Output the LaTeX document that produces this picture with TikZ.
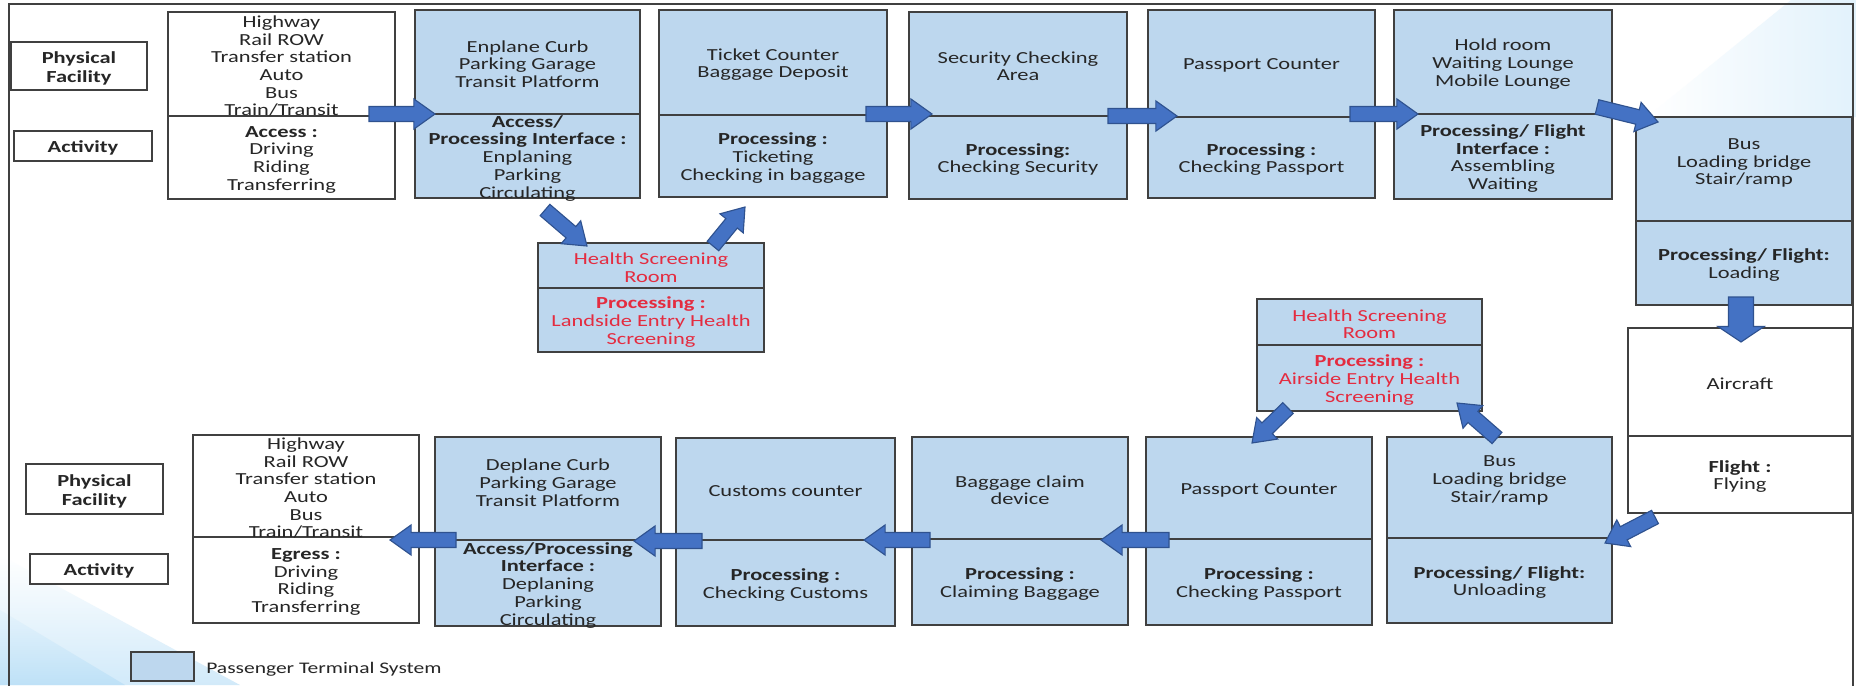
\documentclass[tikz,border=0pt]{standalone}
\usepackage{fontspec}
\setmainfont{Carlito}[FakeStretch=1.33]
\usetikzlibrary{calc,fit}

\definecolor{termblue}{RGB}{189,215,238}
\definecolor{boxline}{RGB}{64,64,64}
\definecolor{arrowblue}{RGB}{68,114,196}
\definecolor{arrowline}{RGB}{47,82,143}
\definecolor{hsred}{RGB}{228,44,64}
\definecolor{txtgray}{RGB}{38,38,38}
\definecolor{bgblue}{RGB}{190,225,247}

\tikzstyle{part} = [draw=boxline, line width=0.9pt, inner sep=0pt]
\tikzstyle{termpart} = [part, fill=termblue]
\tikzstyle{outpart} = [part, fill=white]
\tikzstyle{boxtext} = [align=center, inner sep=0pt, yshift=-1.5pt, text=txtgray, font=\fontsize{12}{12.6}\selectfont]
\tikzstyle{redtext} = [boxtext, text=hsred]
\tikzstyle{rowtext} = [boxtext, font=\fontsize{12}{13.4}\selectfont\bfseries]
\tikzstyle{blockarr} = [draw=arrowline, fill=arrowblue, line width=0.8pt, line join=miter]

\newcommand{\arrsw}{5.3pt}
\newcommand{\arrhw}{10.7pt}
\newcommand{\arrhl}{15pt}
\newcommand{\blockarrow}[2]{%
\path[blockarr] let \p1=(#1), \p2=(#2), \n1={atan2(\y2-\y1,\x2-\x1)}, \n2={veclen(\x2-\x1,\y2-\y1)} in
($(\p1)+(\n1+90:\arrsw)$) --
($(\p1)+(\n1:\n2-\arrhl)+(\n1+90:\arrsw)$) --
($(\p1)+(\n1:\n2-\arrhl)+(\n1+90:\arrhw)$) --
(\p2) --
($(\p1)+(\n1:\n2-\arrhl)+(\n1-90:\arrhw)$) --
($(\p1)+(\n1:\n2-\arrhl)+(\n1-90:\arrsw)$) --
($(\p1)+(\n1-90:\arrsw)$) -- cycle;}

\begin{document}
\begin{tikzpicture}[x=0.025cm, y=-0.025cm]
\useasboundingbox (0,0) rectangle (1856,685);
\fill[white] (0,0) rectangle (1856,685);
\shade[top color=white, bottom color=bgblue!70] (0,555) -- (240,685) -- (0,685) -- cycle;
\shade[top color=bgblue!40, bottom color=bgblue] (0,610) -- (125,685) -- (0,685) -- cycle;
\shade[left color=white, right color=bgblue!45] (1791,0) -- (1856,0) -- (1856,117) -- (1647,117) -- cycle;
\draw[boxline, line width=1pt] (9,700) -- (9,4) -- (1853,4) -- (1853,700);

\node[outpart, fit={(11,42) (147,90)}] (physA) {};
\node[outpart, fit={(14,131) (152,161)}] (actA) {};
\node[outpart, fit={(168,12) (395,116)}] (accup) {};
\node[outpart, fit={(168,116) (395,199)}] (acclo) {};
\node[termpart, fit={(415,10) (640,114)}] (enplup) {};
\node[termpart, fit={(415,114) (640,198)}] (enpllo) {};
\node[termpart, fit={(538,243) (764,288)}] (hslup) {};
\node[termpart, fit={(538,288) (764,352)}] (hsllo) {};
\node[termpart, fit={(659,10) (887,115)}] (tickup) {};
\node[termpart, fit={(659,115) (887,197)}] (ticklo) {};
\node[termpart, fit={(909,12) (1127,116)}] (secup) {};
\node[termpart, fit={(909,116) (1127,199)}] (seclo) {};
\node[termpart, fit={(1148,10) (1375,117)}] (passAup) {};
\node[termpart, fit={(1148,117) (1375,198)}] (passAlo) {};
\node[termpart, fit={(1394,10) (1612,114)}] (holdup) {};
\node[termpart, fit={(1394,114) (1612,199)}] (holdlo) {};
\node[termpart, fit={(1636,117) (1852,221)}] (busAup) {};
\node[termpart, fit={(1636,221) (1852,305)}] (busAlo) {};
\node[outpart, fit={(1628,328) (1852,436)}] (airup) {};
\node[outpart, fit={(1628,436) (1852,513)}] (airlo) {};

\node[termpart, fit={(1257,299) (1482,345)}] (hsaup) {};
\node[termpart, fit={(1257,345) (1482,411)}] (hsalo) {};
\node[termpart, fit={(1387,437) (1612,538)}] (busBup) {};
\node[termpart, fit={(1387,538) (1612,623)}] (busBlo) {};
\node[termpart, fit={(1146,437) (1372,539)}] (passBup) {};
\node[termpart, fit={(1146,539) (1372,625)}] (passBlo) {};
\node[termpart, fit={(912,437) (1128,539)}] (bagup) {};
\node[termpart, fit={(912,539) (1128,625)}] (baglo) {};
\node[termpart, fit={(676,438) (895,540)}] (custup) {};
\node[termpart, fit={(676,540) (895,626)}] (custlo) {};
\node[termpart, fit={(435,437) (661,540)}] (deplup) {};
\node[termpart, fit={(435,540) (661,626)}] (depllo) {};
\node[outpart, fit={(193,435) (419,537)}] (egrup) {};
\node[outpart, fit={(193,537) (419,623)}] (egrlo) {};
\node[outpart, fit={(26,464) (163,514)}] (physB) {};
\node[outpart, fit={(30,554) (168,584)}] (actB) {};
\node[termpart, fit={(131,652) (194,681)}] (legbox) {};

\node[rowtext] (physAtxt) at (physA) {Physical\\Facility};
\node[rowtext] (actAtxt) at (actA) {Activity};
\node[boxtext] (accuptxt) at (accup) {Highway\\Rail ROW\\Transfer station\\Auto\\Bus\\Train/Transit};
\node[boxtext] (acclotxt) at (acclo) {\textbf{Access :}\\Driving\\Riding\\Transferring};
\node[boxtext] (enpluptxt) at (enplup) {Enplane Curb\\Parking Garage\\Transit Platform};
\node[boxtext] (enpllotxt) at (enpllo) {\textbf{Access/}\\\textbf{Processing Interface :}\\Enplaning\\Parking\\Circulating};
\node[redtext] (hsluptxt) at (hslup) {Health Screening\\Room};
\node[redtext] (hsllotxt) at (hsllo) {\textbf{Processing :}\\Landside Entry Health\\Screening};
\node[boxtext] (tickuptxt) at (tickup) {Ticket Counter\\Baggage Deposit};
\node[boxtext] (ticklotxt) at (ticklo) {\textbf{Processing :}\\Ticketing\\Checking in baggage};
\node[boxtext] (secuptxt) at (secup) {Security Checking\\Area};
\node[boxtext] (seclotxt) at (seclo) {\textbf{Processing:}\\Checking Security};
\node[boxtext] (passAuptxt) at (passAup) {Passport Counter};
\node[boxtext] (passAlotxt) at (passAlo) {\textbf{Processing :}\\Checking Passport};
\node[boxtext] (holduptxt) at (holdup) {Hold room\\Waiting Lounge\\Mobile Lounge};
\node[boxtext] (holdlotxt) at (holdlo) {\textbf{Processing/ Flight}\\\textbf{Interface :}\\Assembling\\Waiting};
\node[boxtext] (busAuptxt) at ($(busAup)+(0,-8)$) {Bus\\Loading bridge\\Stair/ramp};
\node[boxtext] (busAlotxt) at (busAlo) {\textbf{Processing/ Flight:}\\Loading};
\node[boxtext] (airuptxt) at (airup) {Aircraft};
\node[boxtext] (airlotxt) at (airlo) {\textbf{Flight :}\\Flying};

\node[redtext] (hsauptxt) at (hsaup) {Health Screening\\Room};
\node[redtext] (hsalotxt) at (hsalo) {\textbf{Processing :}\\Airside Entry Health\\Screening};
\node[boxtext] (busBuptxt) at ($(busBup)+(0,-9)$) {Bus\\Loading bridge\\Stair/ramp};
\node[boxtext] (busBlotxt) at (busBlo) {\textbf{Processing/ Flight:}\\Unloading};
\node[boxtext] (passBuptxt) at (passBup) {Passport Counter};
\node[boxtext] (passBlotxt) at (passBlo) {\textbf{Processing :}\\Checking Passport};
\node[boxtext] (baguptxt) at (bagup) {Baggage claim\\device};
\node[boxtext] (baglotxt) at (baglo) {\textbf{Processing :}\\Claiming Baggage};
\node[boxtext] (custuptxt) at (custup) {Customs counter};
\node[boxtext] (custlotxt) at (custlo) {\textbf{Processing :}\\Checking Customs};
\node[boxtext] (depluptxt) at ($(deplup)+(0,-8)$) {Deplane Curb\\Parking Garage\\Transit Platform};
\node[boxtext] (depllotxt) at (depllo) {\textbf{Access/Processing}\\\textbf{Interface :}\\Deplaning\\Parking\\Circulating};
\node[boxtext] (egruptxt) at (egrup) {Highway\\Rail ROW\\Transfer station\\Auto\\Bus\\Train/Transit};
\node[boxtext] (egrlotxt) at (egrlo) {\textbf{Egress :}\\Driving\\Riding\\Transferring};
\node[rowtext] (physBtxt) at (physB) {Physical\\Facility};
\node[rowtext] (actBtxt) at (actB) {Activity};
\node[boxtext, anchor=west, font=\fontsize{11.5}{12.6}\selectfont] (legtxt) at (206,667) {Passenger Terminal System};

\coordinate (s1) at (369,114);  \coordinate (e1) at (435,114);
\coordinate (s2) at (545,210);  \coordinate (e2) at (587,246);
\coordinate (s3) at (713,246);  \coordinate (e3) at (745,207);
\coordinate (s4) at (866,114);  \coordinate (e4) at (932,114);
\coordinate (s5) at (1108,116); \coordinate (e5) at (1177,116);
\coordinate (s6) at (1350,114); \coordinate (e6) at (1418,114);
\coordinate (s7) at (1597,107); \coordinate (e7) at (1658,122);
\coordinate (s8) at (1741,297); \coordinate (e8) at (1741,342);
\coordinate (s9) at (1655,517); \coordinate (e9) at (1605,543);
\coordinate (s10) at (1497,438); \coordinate (e10) at (1457,403);
\coordinate (s11) at (1288,408); \coordinate (e11) at (1252,443);
\coordinate (s12) at (1169,540); \coordinate (e12) at (1101,540);
\coordinate (s13) at (930,540);  \coordinate (e13) at (864,540);
\coordinate (s14) at (702,541);  \coordinate (e14) at (634,541);
\coordinate (s15) at (456,540);  \coordinate (e15) at (390,540);

\blockarrow{s1}{e1}
\blockarrow{s2}{e2}
\blockarrow{s3}{e3}
\blockarrow{s4}{e4}
\blockarrow{s5}{e5}
\blockarrow{s6}{e6}
\blockarrow{s7}{e7}
{\renewcommand{\arrsw}{8.9pt}\renewcommand{\arrhw}{16.4pt}\renewcommand{\arrhl}{11pt}\blockarrow{s8}{e8}}
\blockarrow{s9}{e9}
\blockarrow{s10}{e10}
\blockarrow{s11}{e11}
\blockarrow{s12}{e12}
\blockarrow{s13}{e13}
\blockarrow{s14}{e14}
\blockarrow{s15}{e15}
\end{tikzpicture}
\end{document}
